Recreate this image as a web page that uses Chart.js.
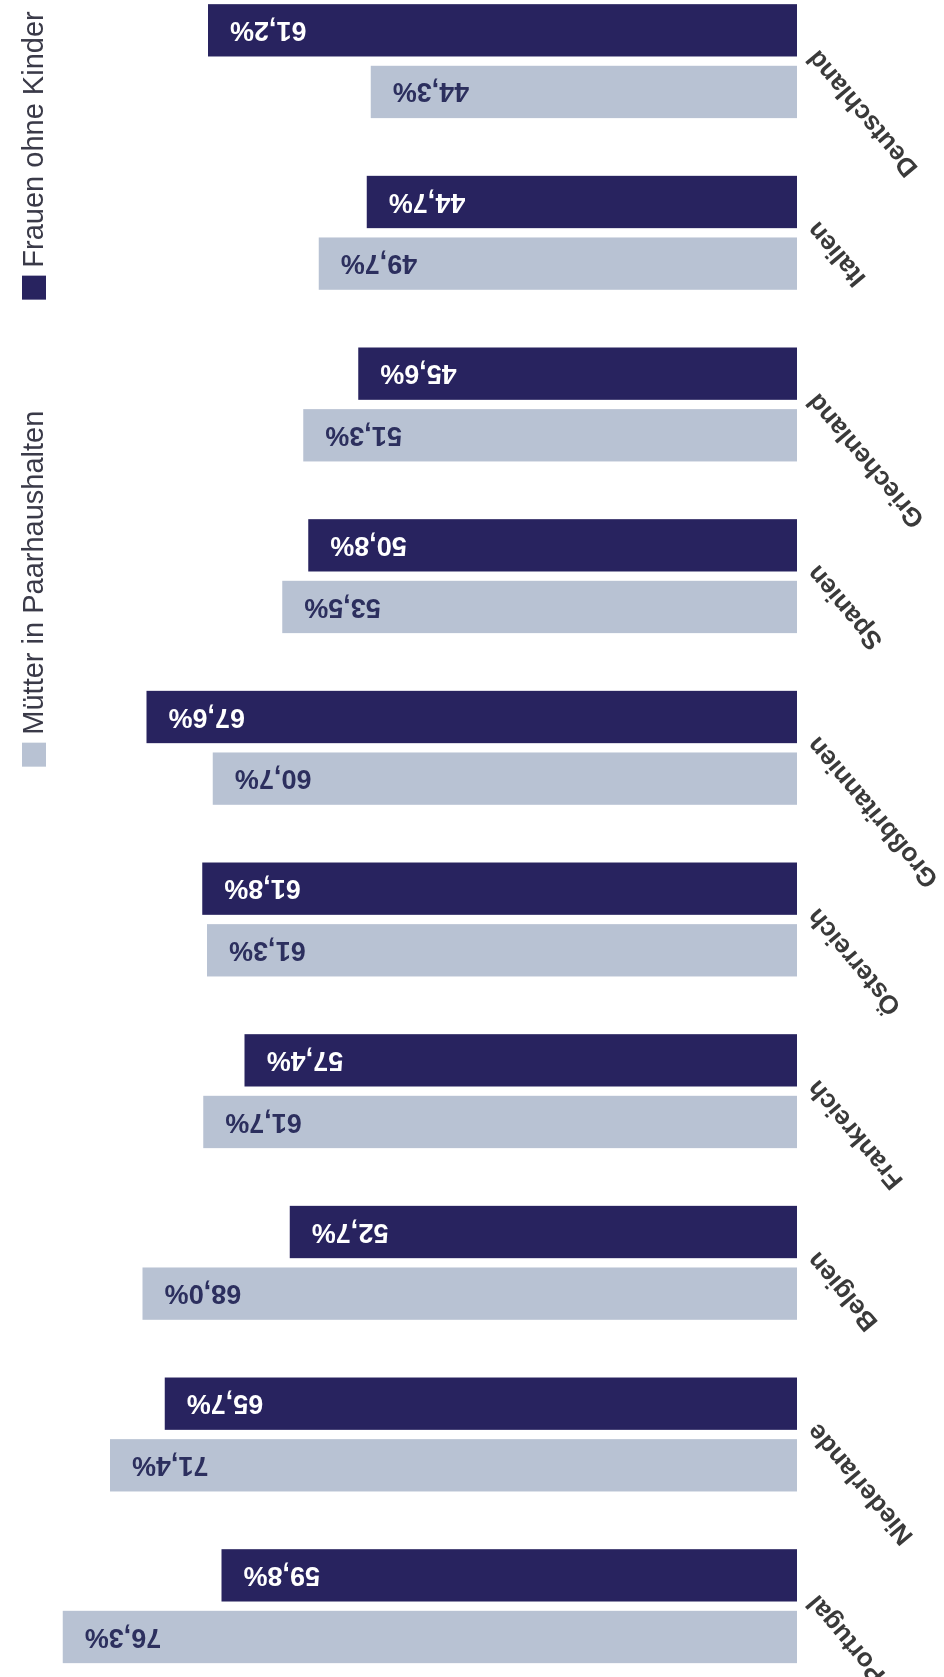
<!doctype html>
<html>

<head>
	<meta charset="utf-8">
	<title>Mütter und Frauen ohne Kinder</title>
	<script src="https://cdn.jsdelivr.net/npm/chart.js@4/dist/chart.umd.min.js"></script>
	<style>
		html, body { margin: 0; padding: 0; background: #fff; }
		body { width: 944px; height: 1677px; overflow: hidden; position: relative; }
		/* chart is drawn as a column chart and turned on its side */
		#holder {
			position: absolute; left: 0; top: 0;
			width: 1760px; height: 944px;
			transform-origin: 0 0;
			transform: translate(0px, 1712px) rotate(-90deg);
		}
	</style>
</head>

<body>
	<div id="holder">
		<canvas id="chart-area" width="1760" height="944"></canvas>
	</div>
	<script>
		const categories = ['Portugal', 'Niederlande', 'Belgien', 'Frankreich', 'Österreich',
			'Großbritannien', 'Spanien', 'Griechenland', 'Italien', 'Deutschland'];
		const muetterPaarhaushalte = [76.3, 71.4, 68.0, 61.7, 61.3, 60.7, 53.5, 51.3, 49.7, 44.3];
		const frauenOhneKinder = [59.8, 65.7, 52.7, 57.4, 61.8, 67.6, 50.8, 45.6, 44.7, 61.2];

		const dark = '#28235f';
		const light = '#b8c2d3';
		const fmt = (v) => v.toFixed(1).replace('.', ',') + '%';

		// value labels inside the bars, reading upwards from the top end
		const valueLabels = {
			id: 'valueLabels',
			afterDatasetsDraw(chart) {
				const ctx = chart.ctx;
				ctx.save();
				ctx.font = 'bold 27px "Liberation Sans", Arial, sans-serif';
				ctx.textAlign = 'right';
				ctx.textBaseline = 'middle';
				chart.data.datasets.forEach((ds, i) => {
					chart.getDatasetMeta(i).data.forEach((bar, j) => {
						ctx.save();
						ctx.translate(bar.x, bar.y + 22);
						ctx.rotate(-Math.PI / 2);
						ctx.fillStyle = ds.labelColor;
						ctx.fillText(fmt(ds.data[j]), 0, 1);
						ctx.restore();
					});
				});
				ctx.restore();
			}
		};

		// legend row, right aligned above the plot
		const legendRow = {
			id: 'legendRow',
			afterDraw(chart) {
				const ctx = chart.ctx;
				const box = 24;
				const y = 34;
				let x = chart.chartArea.right - 36;
				ctx.save();
				ctx.font = '29px "Liberation Sans", Arial, sans-serif';
				ctx.textBaseline = 'middle';
				ctx.textAlign = 'left';
				chart.data.datasets.slice().reverse().forEach((ds) => {
					const w = ctx.measureText(ds.label).width;
					ctx.fillStyle = '#3a3a48';
					ctx.fillText(ds.label, x - w, y + 1);
					x -= w + 8 + box;
					ctx.fillStyle = ds.backgroundColor;
					ctx.fillRect(x, y - box / 2, box, box);
					x -= 111;
				});
				ctx.restore();
			}
		};

		const config = {
			type: 'bar',
			data: {
				labels: categories,
				datasets: [{
					label: 'Mütter in Paarhaushalten',
					data: muetterPaarhaushalte,
					backgroundColor: light,
					labelColor: '#2c2f5e'
				}, {
					label: 'Frauen ohne Kinder',
					data: frauenOhneKinder,
					backgroundColor: dark,
					labelColor: '#ffffff'
				}]
			},
			options: {
				responsive: false,
				animation: false,
				categoryPercentage: 0.718,
				barPercentage: 0.849,
				layout: {
					padding: { top: 56, left: 20, right: 23.3, bottom: 0 }
				},
				plugins: {
					legend: { display: false },
					tooltip: { enabled: false }
				},
				scales: {
					x: {
						offset: true,
						grid: { display: false, drawTicks: false },
						border: { display: false },
						ticks: {
							autoSkip: false,
							minRotation: 40,
							maxRotation: 40,
							padding: 4,
							labelOffset: 8,
							color: '#3a3a3a',
							font: { family: '"Liberation Sans", Arial, sans-serif', size: 26, weight: 'bold' }
						},
						afterFit(scale) {
							scale.height = 147;
						}
					},
					y: {
						display: false,
						min: 0,
						max: 77
					}
				}
			},
			plugins: [valueLabels, legendRow]
		};

		window.onload = function() {
			const ctx = document.getElementById('chart-area').getContext('2d');
			window.myBar = new Chart(ctx, config);
		};
	</script>
</body>

</html>
